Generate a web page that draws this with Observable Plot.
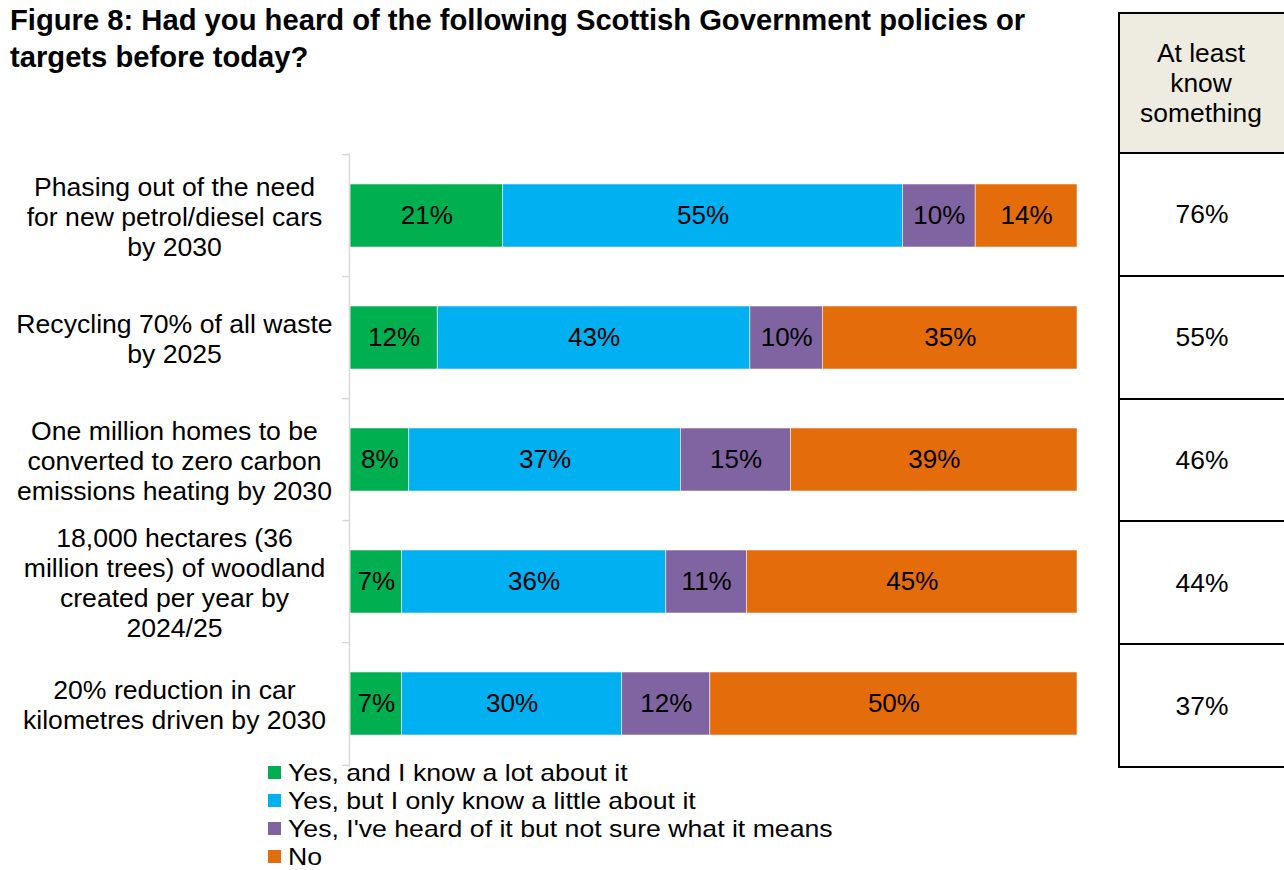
<!DOCTYPE html>
<html>
<head>
<meta charset="utf-8">
<script src="https://cdn.jsdelivr.net/npm/d3@7"></script>
<script src="https://cdn.jsdelivr.net/npm/@observablehq/plot@0.6"></script>
<style>
  body { margin: 0; background: #fff; font-family: "Liberation Sans", Arial, sans-serif; color: #000; }
  #wrap { position: relative; width: 1284px; height: 870px; overflow: hidden; }
  #wrap > svg { position: absolute; left: 0; top: 0; }
  #title { position: absolute; left: 10px; top: 2px; font-weight: bold; font-size: 29.2px; line-height: 37px; white-space: nowrap; }
  .legend { position: absolute; left: 268px; top: 758px; font-size: 24px; }
  .legend .item { display: flex; align-items: center; height: 28px; line-height: 27px; white-space: nowrap; }
  .legend .sw { width: 13px; height: 13px; margin-right: 7px; flex: none; }
  .legend .txt { display: inline-block; transform: scaleX(1.11); transform-origin: left center; }
  .tbl { position: absolute; left: 1118px; top: 0; width: 166px; height: 870px; }
  .tbl .hline { position: absolute; left: 0; width: 166px; height: 2px; background: #000; }
  .tbl .vline { position: absolute; left: 0; width: 2px; background: #000; }
  .tbl .cell { position: absolute; left: 2px; width: 164px; display: flex; align-items: center; justify-content: center; text-align: center; font-size: 26.4px; line-height: 30px; }
</style>
</head>
<body>
<div id="wrap">
  <div id="title">Figure 8: Had you heard of the following Scottish Government policies or<br>targets before today?</div>
</div>
<script>
// ---- data ----
const policies = [
  "Phasing out of the need\nfor new petrol/diesel cars\nby 2030",
  "Recycling 70% of all waste\nby 2025",
  "One million homes to be\nconverted to zero carbon\nemissions heating by 2030",
  "18,000 hectares (36\nmillion trees) of woodland\ncreated per year by\n2024/25",
  "20% reduction in car\nkilometres driven by 2030"
];
const responses = [
  "Yes, and I know a lot about it",
  "Yes, but I only know a little about it",
  "Yes, I've heard of it but not sure what it means",
  "No"
];
const colors = ["#00B050", "#00B0F0", "#8064A2", "#E46C0A"];
const yesLot    = [21, 12, 8, 7, 7];
const yesLittle = [55, 43, 37, 36, 30];
const heardOnly = [10, 10, 15, 11, 12];
const no        = [14, 35, 39, 45, 50];
const tableHeader = "At least\nknow\nsomething";
const atLeastKnow = [76, 55, 46, 44, 37];

// ---- table for the library ----
const series = [yesLot, yesLittle, heardOnly, no];
const data = [];
responses.forEach((r, j) => policies.forEach((p, i) => data.push({policy: p, response: r, value: series[j][i]})));

// ---- layout ----
const W = 1284, H = 870, mT = 153, mB = 103, mL = 350, mR = 207;
const step = (H - mT - mB) / policies.length;
const font = "'Liberation Sans', Arial, sans-serif";

const chart = Plot.plot({
  width: W, height: H,
  marginTop: mT, marginBottom: mB, marginLeft: mL, marginRight: mR,
  style: {fontFamily: font, background: "transparent", color: "#000", overflow: "visible"},
  x: {axis: null, domain: [0, 1]},
  y: {domain: policies, axis: null, paddingInner: 0.48, paddingOuter: 0.24},
  color: {domain: responses, range: colors},
  marks: [
    Plot.barX(data, Plot.stackX({x: "value", y: "policy", fill: "response", offset: "normalize",
      stroke: "#ffffff", strokeWidth: 0.75, strokeOpacity: 0.7})),
    Plot.text(data, Plot.stackX({x: "value", y: "policy", z: "response", offset: "normalize",
      text: d => d.value + "%", fontSize: 26, fill: "#000"})),
    Plot.ruleX([0], {stroke: "#d9d9d9", strokeWidth: 1.5, dx: -1}),
    Plot.ruleY(policies, {y: d => d, x1: 0, x2: 0, insetLeft: -8, insetRight: 1, dy: -step / 2, stroke: "#d9d9d9", strokeWidth: 1.5}),
    Plot.ruleY(policies.slice(-1), {y: d => d, x1: 0, x2: 0, insetLeft: -8, insetRight: 1, dy: step / 2, stroke: "#d9d9d9", strokeWidth: 1.5}),
    Plot.text(policies, {y: d => d, text: d => d, frameAnchor: "left", dx: -176, textAnchor: "middle",
      fontSize: 26.6, lineHeight: 30 / 26.6, fill: "#000"})
  ]
});
const wrap = document.getElementById("wrap");
wrap.appendChild(chart);

// ---- legend ----
const legend = document.createElement("div");
legend.className = "legend";
responses.forEach((r, i) => {
  const item = document.createElement("div");
  item.className = "item";
  const sw = document.createElement("span");
  sw.className = "sw";
  sw.style.background = colors[i];
  const t = document.createElement("span");
  t.className = "txt";
  t.textContent = r;
  item.append(sw, t);
  legend.appendChild(item);
});
wrap.appendChild(legend);

// ---- side table ----
const tbl = document.createElement("div");
tbl.className = "tbl";
const headTop = 13;
const header = document.createElement("div");
header.className = "cell";
header.style.top = headTop + "px";
header.style.height = (mT - headTop) + "px";
header.style.background = "#EEECE1";
header.style.left = "0px";
header.style.width = "166px";
header.innerHTML = tableHeader.split("\n").join("<br>");
tbl.appendChild(header);
atLeastKnow.forEach((v, i) => {
  const c = document.createElement("div");
  c.className = "cell";
  c.style.top = (mT + step * i) + "px";
  c.style.height = step + "px";
  c.textContent = v + "%";
  tbl.appendChild(c);
});
const lines = [headTop].concat(d3.range(policies.length + 1).map(k => mT + step * k));
lines.forEach(y => {
  const l = document.createElement("div");
  l.className = "hline";
  l.style.top = (y - 1) + "px";
  tbl.appendChild(l);
});
const vl = document.createElement("div");
vl.className = "vline";
vl.style.top = (headTop - 1) + "px";
vl.style.height = (mT + step * policies.length - headTop + 2) + "px";
tbl.appendChild(vl);
wrap.appendChild(tbl);
</script>
</body>
</html>
